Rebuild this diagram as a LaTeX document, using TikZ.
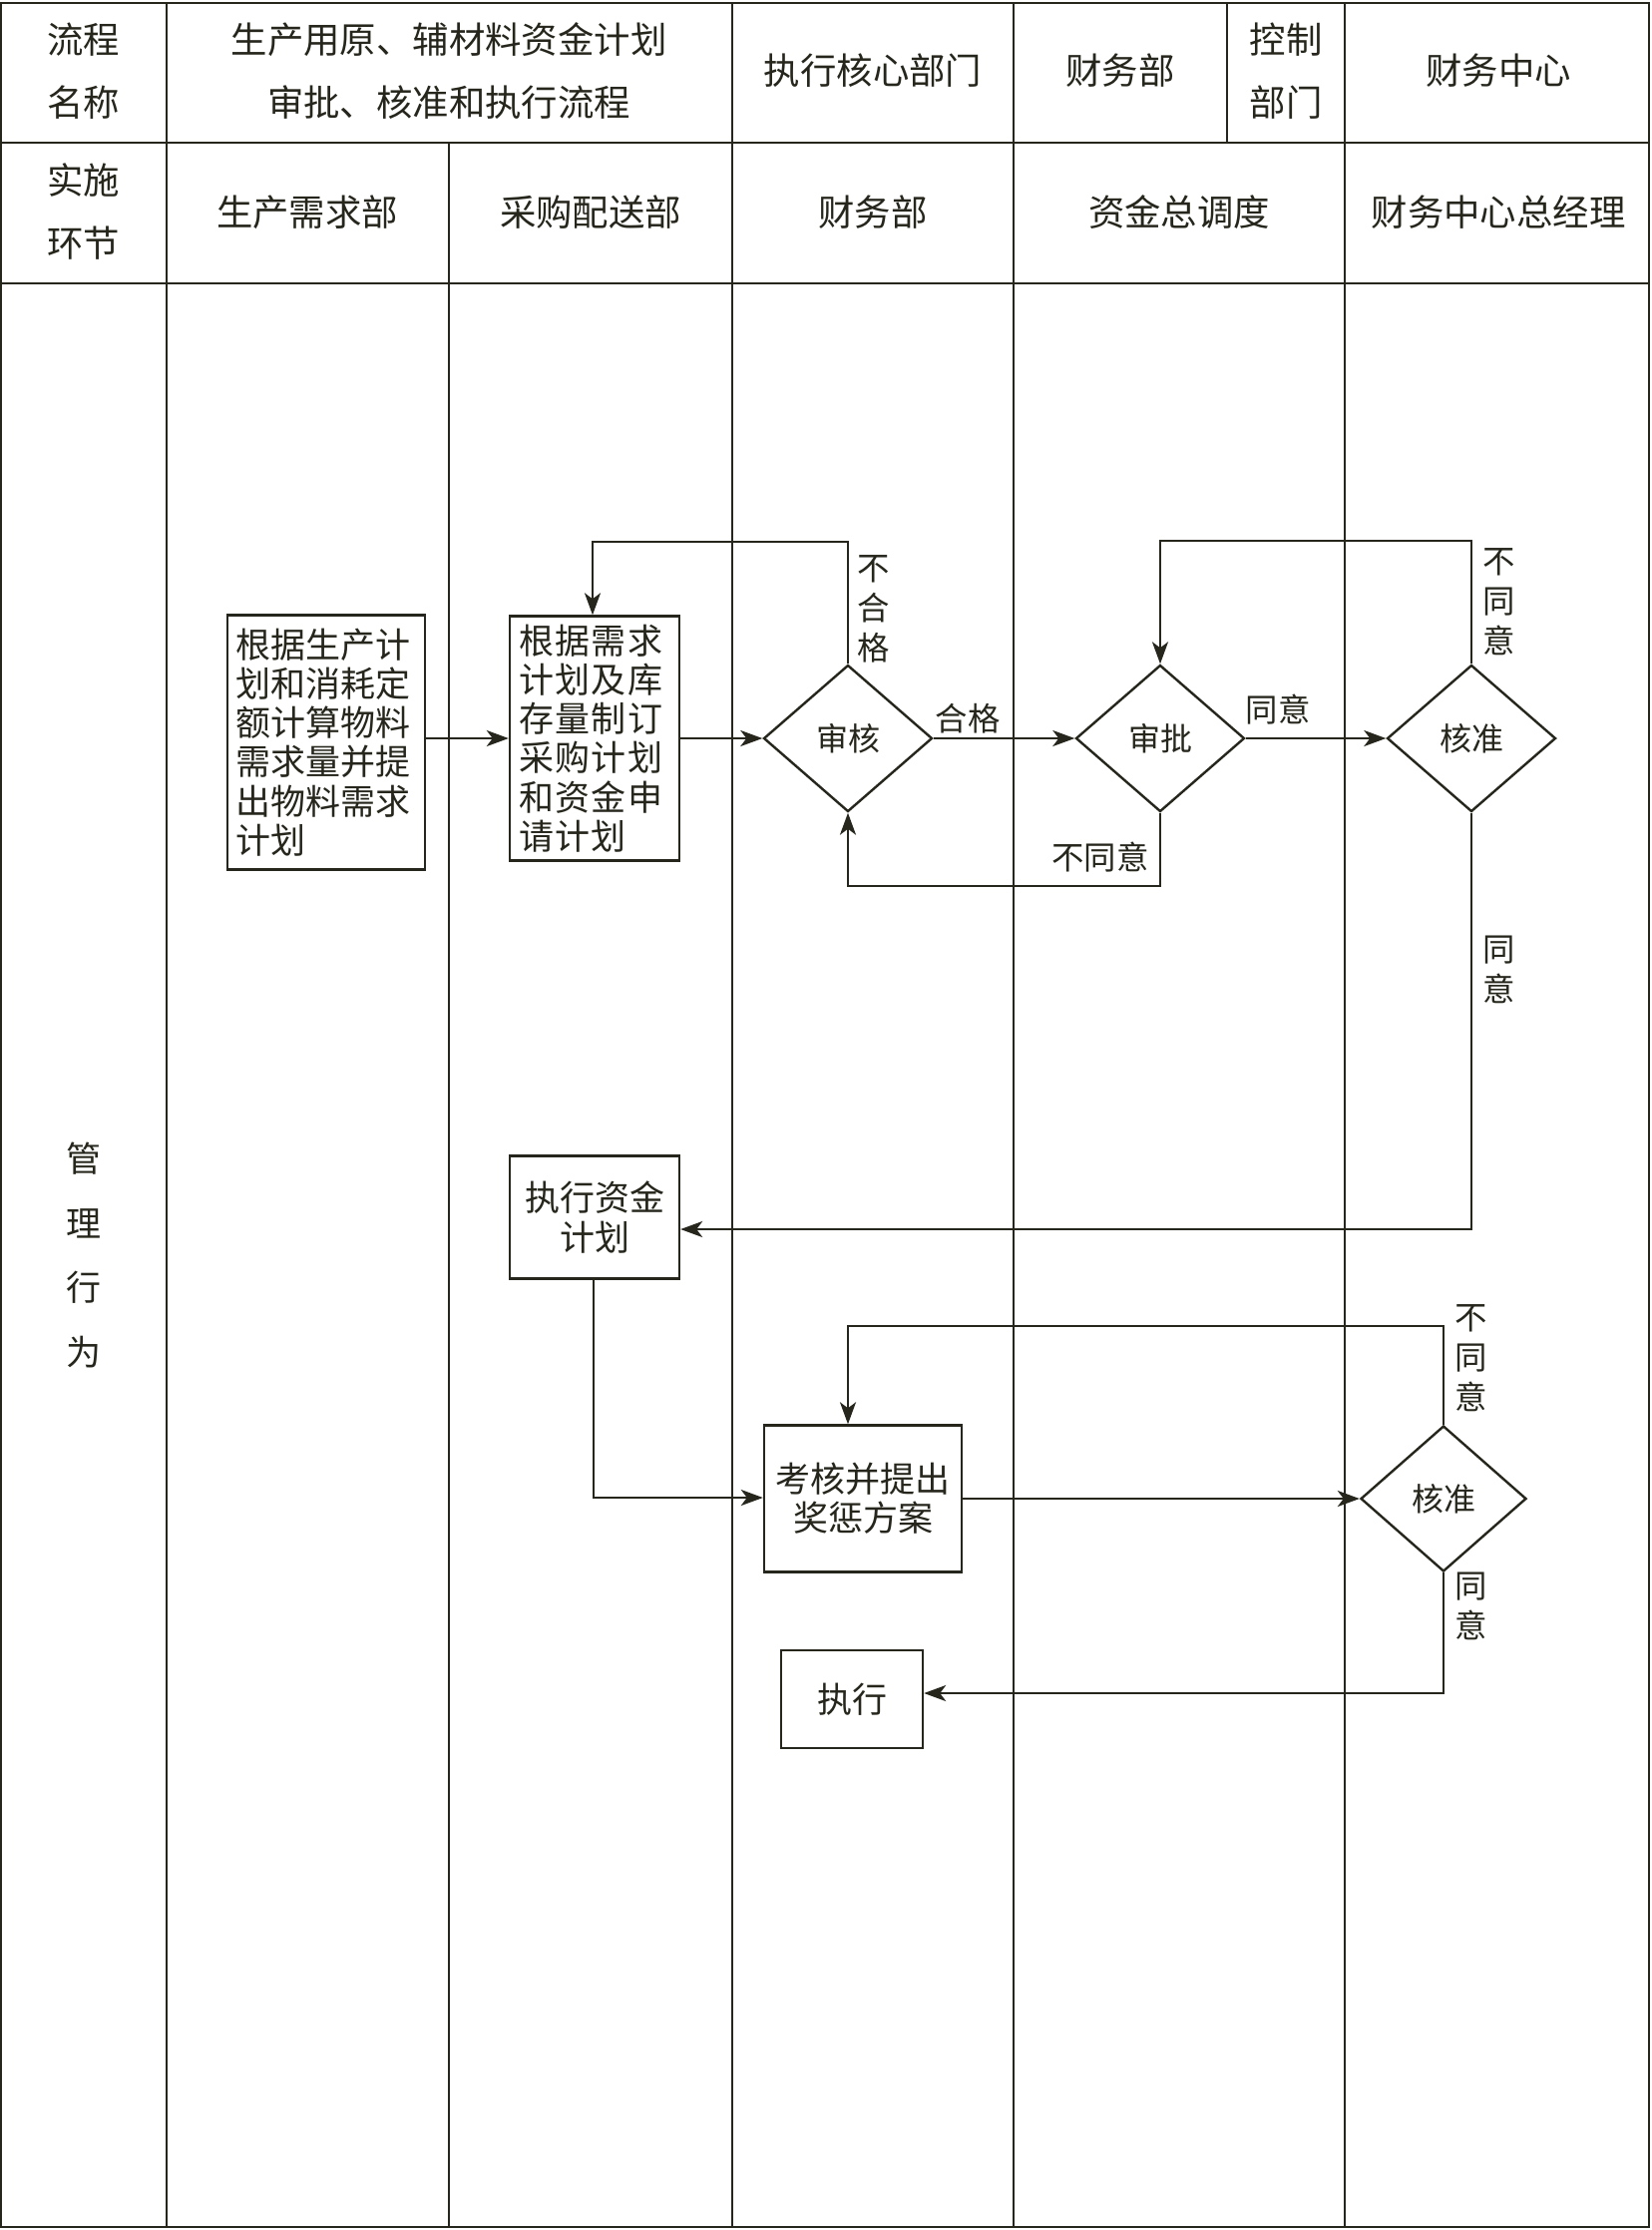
\documentclass[tikz,border=0pt]{standalone}
\usepackage{fontspec}
\newfontfamily\cjk{Noto Sans CJK SC}
\usetikzlibrary{shapes.geometric,arrows.meta}
\definecolor{ink}{RGB}{38,38,28}
\begin{document}
\begin{tikzpicture}[x=0.5pt,y=-0.5pt,
  gridline/.style={draw=ink, line width=0.8pt},
  thickline/.style={draw=ink, line width=1.4pt},
  hdr/.style={font=\cjk\fontsize{18.2}{31.5}\selectfont, text=ink, inner sep=0pt, align=center},
  boxtxt/.style={font=\cjk\fontsize{17.5}{19.6}\selectfont, text=ink},
  procbox/.style={boxtxt, draw=ink, line width=1.2pt, fill=white, inner sep=0pt},
  decision/.style={diamond, draw=ink, line width=1.2pt, fill=white, inner sep=0pt,
     font=\cjk\fontsize{16}{19}\selectfont, text=ink},
  flow/.style={draw=ink, line width=1.15pt, -{Stealth[length=11pt,width=8pt,inset=3pt]}},
  lbl/.style={font=\cjk\fontsize{16.2}{20}\selectfont, text=ink, inner sep=0pt, align=center}
]
\useasboundingbox (0,0) rectangle (1656,2235);
\fill[white] (0,0) rectangle (1656,2235);

% ---- table grid ----
\draw[gridline] (1,3) rectangle (1653,2232);
\draw[thickline] (1,3) -- (1653,3);
\draw[thickline] (1,143) -- (1653,143);
\draw[thickline] (1,284) -- (1653,284);
\draw[gridline] (167,3) -- (167,2232);
\draw[gridline] (450,143) -- (450,2232);
\draw[gridline] (734,3) -- (734,2232);
\draw[gridline] (1016,3) -- (1016,2232);
\draw[gridline] (1230,3) -- (1230,143);
\draw[gridline] (1348,3) -- (1348,2232);

% ---- headers ----
\node[hdr] (hA) at (84,71) {流程\\名称};
\node[hdr] (hB) at (450,71) {生产用原、辅材料资金计划\\审批、核准和执行流程};
\node[hdr] (hC) at (875,71) {执行核心部门};
\node[hdr] (hD) at (1123,71) {财务部};
\node[hdr] (hE) at (1289,71) {控制\\部门};
\node[hdr] (hF) at (1502,71) {财务中心};
\node[hdr] (rA) at (84,212) {实施\\环节};
\node[hdr] (rB) at (308,213) {生产需求部};
\node[hdr] (rC) at (592,213) {采购配送部};
\node[hdr] (rD) at (875,213) {财务部};
\node[hdr] (rE) at (1182,213) {资金总调度};
\node[hdr] (rF) at (1502,213) {财务中心总经理};
\node[hdr, font=\cjk\fontsize{17.5}{32.2}\selectfont] (side) at (84,1258) {管\\理\\行\\为};

% ---- process nodes ----
\node[procbox, minimum width=99pt, minimum height=127.5pt, text width=91pt, align=left] (b1) at (327,744)
  {根据生产计\\划和消耗定\\额计算物料\\需求量并提\\出物料需求\\计划};
\node[procbox, minimum width=85pt, minimum height=122.5pt, text width=76pt, align=left,
      font=\cjk\fontsize{17.5}{19.6}\selectfont\addfontfeature{LetterSpace=4}] (b2) at (596,740)
  {根据需求\\计划及库\\存量制订\\采购计划\\和资金申\\请计划};
\node[decision, minimum width=84.5pt, minimum height=73.5pt] (d1) at (850,740) {审核};
\node[decision, minimum width=84.5pt, minimum height=73.5pt] (d2) at (1163,740) {审批};
\node[decision, minimum width=84.5pt, minimum height=73.5pt] (d3) at (1475,740) {核准};
\node[procbox, minimum width=85pt, minimum height=61.5pt, align=center] (b3) at (596,1220)
  {执行资金\\计划};
\node[procbox, minimum width=99pt, minimum height=73.5pt, align=center] (b4) at (865,1502)
  {考核并提出\\奖惩方案};
\node[decision, minimum width=83pt, minimum height=73pt] (d4) at (1447,1502) {核准};
\node[procbox, minimum width=71pt, minimum height=49pt, align=center] (b5) at (854,1703) {执行};

% ---- helper coordinates ----
\coordinate (l1a) at (850,543);
\coordinate (l1b) at (594,543);
\coordinate (l2a) at (1475,542);
\coordinate (l2b) at (1163,542);
\coordinate (l3a) at (1163,888);
\coordinate (l3b) at (850,888);
\coordinate (l4a) at (1475,1232);
\coordinate (l5a) at (595,1501);
\coordinate (l6a) at (1447,1329);
\coordinate (l6b) at (850,1329);
\coordinate (l7a) at (1447,1697);

% ---- connectors ----
\draw[flow] (b1.east |- d1.west) -- (b2.west |- d1.west);
\draw[flow] (b2.east |- d1.west) -- (d1.west);
\draw[flow] (d1.north) -- (l1a) -- (l1b) -- (l1b |- b2.north);
\draw[flow] (d1.east) -- (d2.west);
\draw[flow] (d2.east) -- (d3.west);
\draw[flow] (d3.north) -- (l2a) -- (l2b) -- (d2.north);
\draw[flow] (d2.south) -- (l3a) -- (l3b) -- (d1.south);
\draw[flow] (d3.south) -- (l4a) -- (l4a -| b3.east);
\draw[flow] (b3.south -| l5a) -- (l5a) -- (l5a -| b4.west);
\draw[flow] (b4.east |- d4.west) -- (d4.west);
\draw[flow] (d4.north) -- (l6a) -- (l6b) -- (l6b |- b4.north);
\draw[flow] (d4.south) -- (l7a) -- (l7a -| b5.east);

% ---- labels ----
\node[lbl] (t1) at (876,610) {不\\合\\格};
\node[lbl] (t2) at (970,720) {合格};
\node[lbl] (t3) at (1281,711) {同意};
\node[lbl] (t4) at (1503,603) {不\\同\\意};
\node[lbl] (t5) at (1103,859) {不同意};
\node[lbl] (t6) at (1503,972) {同\\意};
\node[lbl] (t7) at (1475,1361) {不\\同\\意};
\node[lbl] (t8) at (1475,1610) {同\\意};
\end{tikzpicture}
\end{document}
